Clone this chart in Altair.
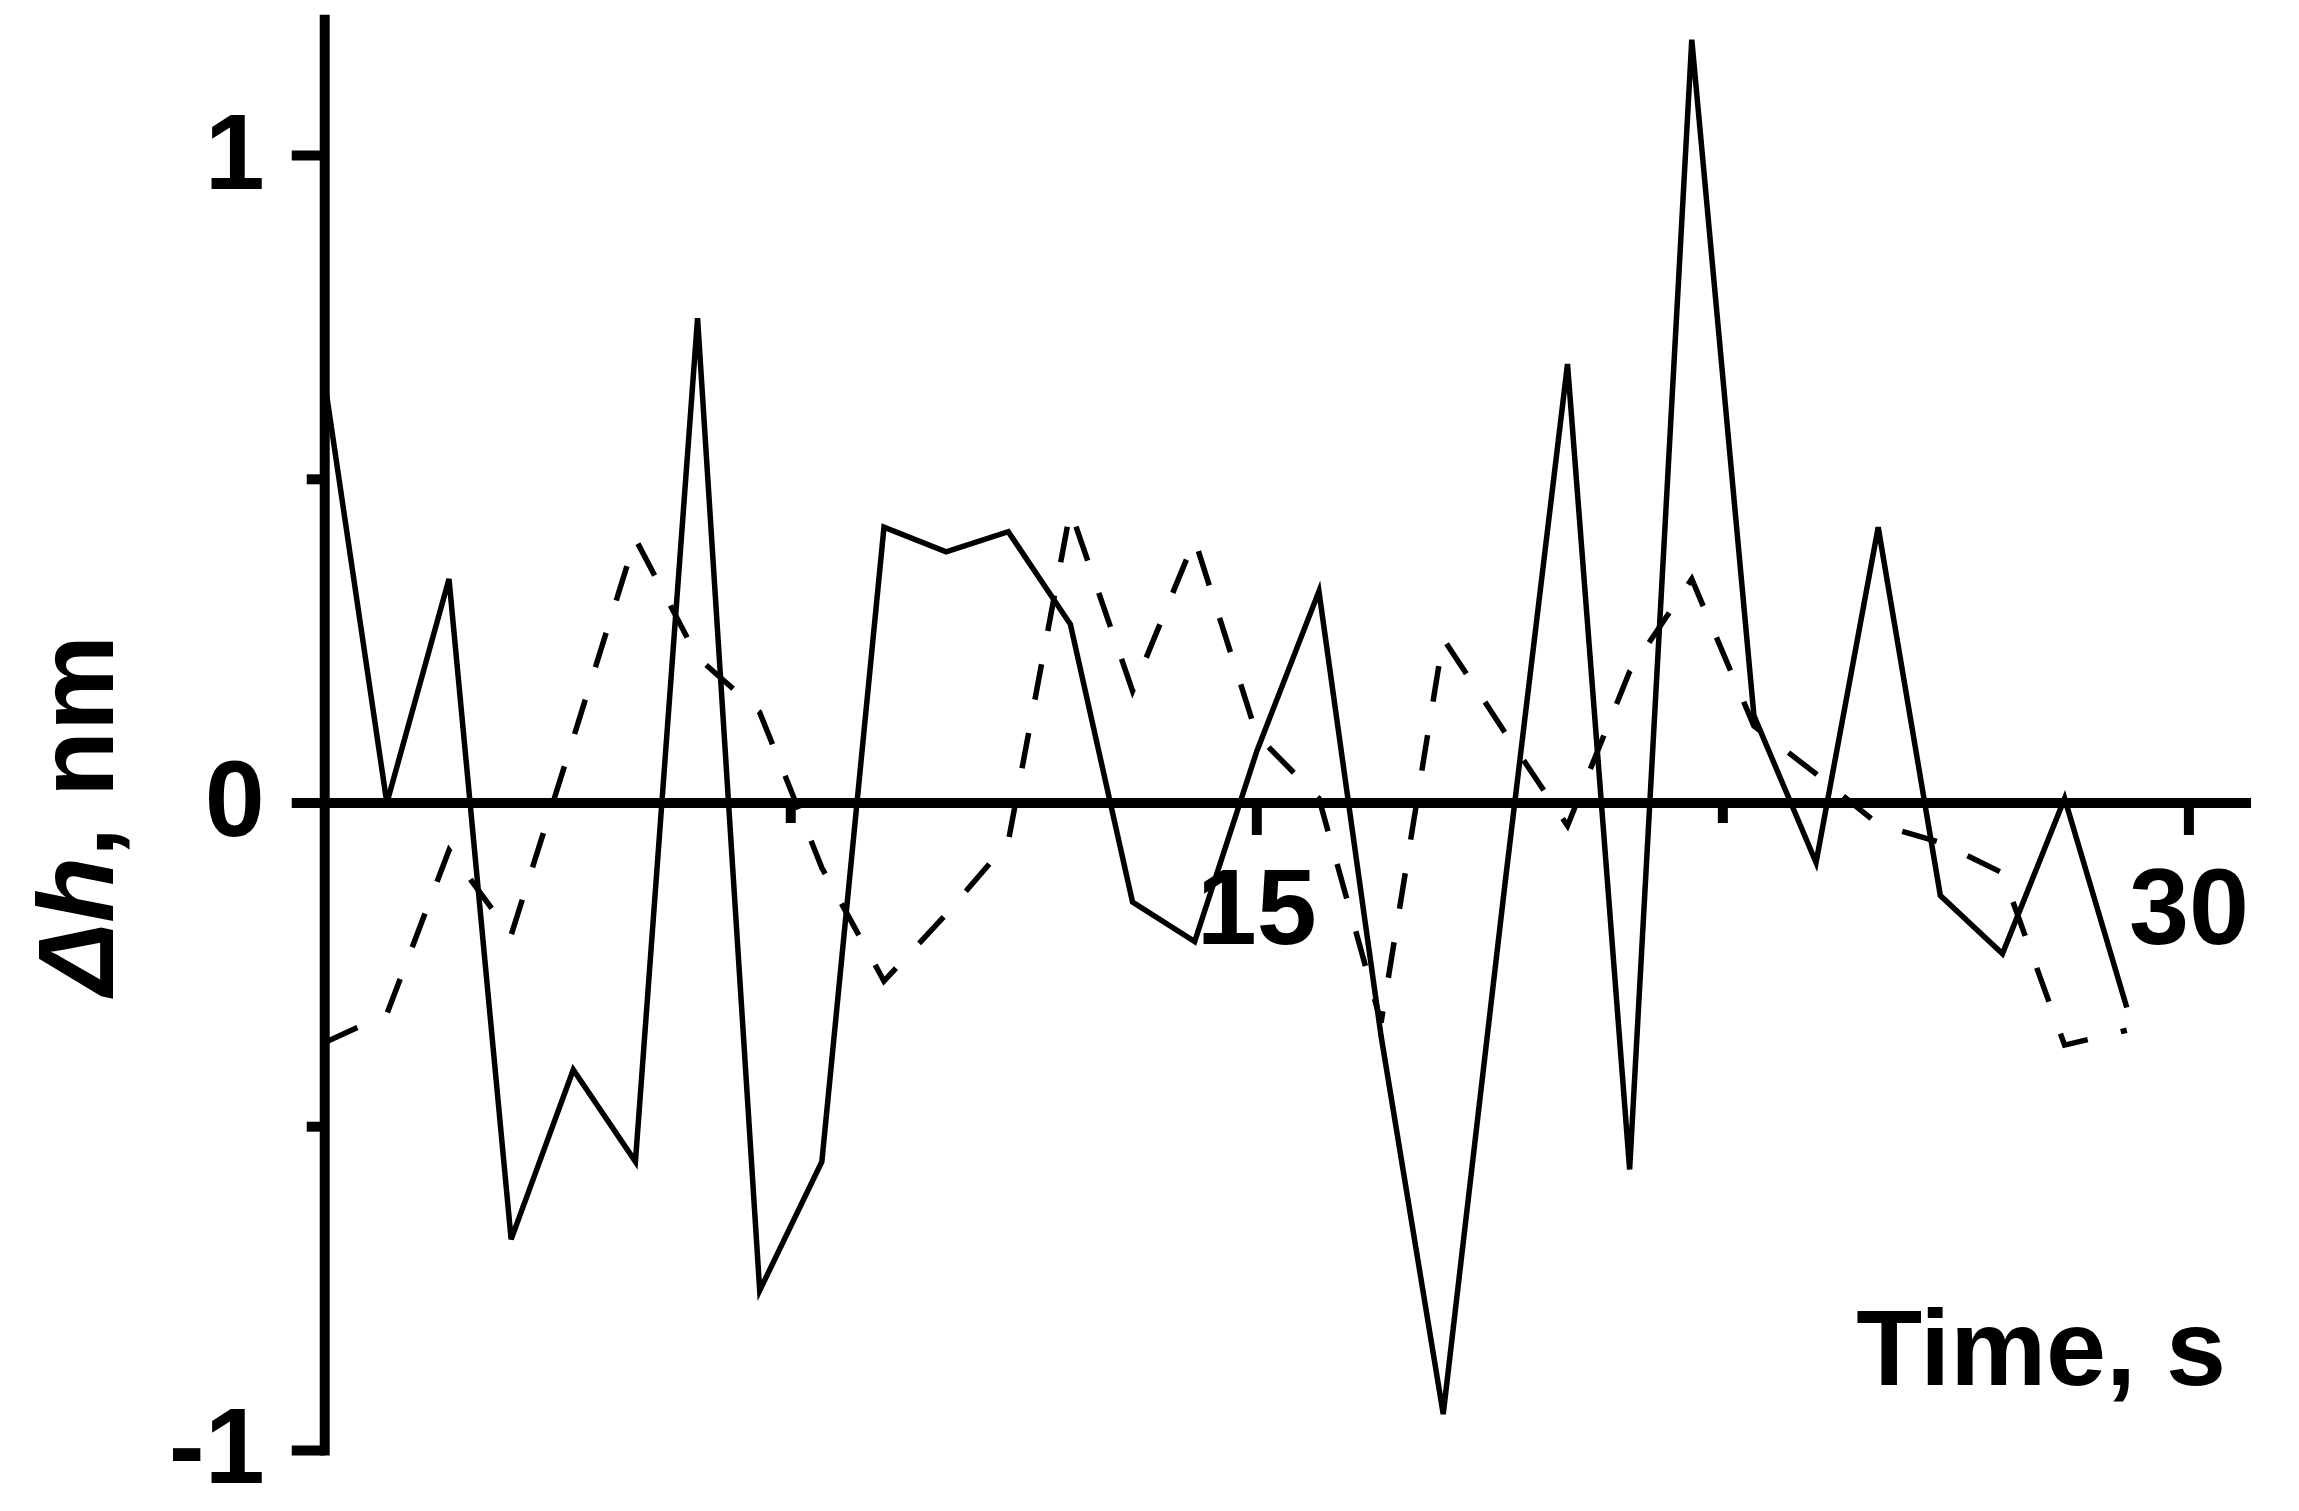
import altair as alt
import pandas as pd

# ---- data ----
time_s = list(range(30))
dh_solid = [0.65, 0.0, 0.346, -0.674, -0.412, -0.554, 0.749, -0.753, -0.554, 0.426,
            0.388, 0.419, 0.276, -0.153, -0.214, 0.08, 0.327, -0.36, -0.944, -0.12,
            0.678, -0.566, 1.179, 0.135, -0.092, 0.426, -0.143, -0.233, 0.007, -0.316]
dh_dashed = [-0.37, -0.326, -0.073, -0.204, 0.10, 0.408, 0.225, 0.14, -0.10, -0.275,
             -0.172, -0.06, 0.452, 0.173, 0.407, 0.105, 0.007, -0.339, 0.254, 0.108,
             -0.035, 0.203, 0.346, 0.119, 0.045, -0.033, -0.061, -0.108, -0.374, -0.351]

x_major = [15, 30]
x_major_labels = ["15", "30"]
x_minor = [7.5, 22.5]
y_major = [-1, 0, 1]
y_major_labels = ["-1", "0", "1"]
y_minor = [-0.5, 0.5]
x_domain = [0, 31]
y_domain = [-1, 1.21]

x_title = "Time, s"
y_title_a = "\u0394h"
y_title_b = ", nm"

# ---- layout ----
W, H = 1928, 1432
FONT = "Liberation Sans"
FS = 108
AXW = 10
LW = 5.5

xs = alt.Scale(domain=x_domain, nice=False, zero=False)
ys = alt.Scale(domain=y_domain, nice=False, zero=False)

df = pd.DataFrame({"t": time_s, "solid": dh_solid, "dashed": dh_dashed})

dashed = alt.Chart(df).mark_line(color="black", strokeWidth=LW, strokeDash=[36, 34]).encode(
    x=alt.X("t:Q", scale=xs, axis=None),
    y=alt.Y("dashed:Q", scale=ys, axis=None),
)
solid = alt.Chart(df).mark_line(color="black", strokeWidth=LW).encode(
    x=alt.X("t:Q", scale=xs, axis=None),
    y=alt.Y("solid:Q", scale=ys, axis=None),
)

yaxis_df = pd.DataFrame({"x": [x_domain[0]], "y1": [y_domain[0]], "y2": [y_domain[1]]})
yaxis = alt.Chart(yaxis_df).mark_rule(color="black", strokeWidth=AXW, strokeCap="square").encode(
    x=alt.X("x:Q", scale=xs, axis=None),
    y=alt.Y("y1:Q", scale=ys, axis=None),
    y2="y2:Q",
)
xaxis_df = pd.DataFrame({"x1": [x_domain[0]], "x2": [x_domain[1]], "y": [0]})
xaxis = alt.Chart(xaxis_df).mark_rule(color="black", strokeWidth=AXW).encode(
    x=alt.X("x1:Q", scale=xs, axis=None),
    x2="x2:Q",
    y=alt.Y("y:Q", scale=ys, axis=None),
)

ymaj_df = pd.DataFrame({"v": y_major, "lab": y_major_labels})
ymaj = alt.Chart(ymaj_df).mark_rule(color="black", strokeWidth=AXW).encode(
    y=alt.Y("v:Q", scale=ys, axis=None), x=alt.value(-33), x2=alt.value(0)
)
ymin_df = pd.DataFrame({"v": y_minor})
ymin = alt.Chart(ymin_df).mark_rule(color="black", strokeWidth=AXW).encode(
    y=alt.Y("v:Q", scale=ys, axis=None), x=alt.value(-18), x2=alt.value(0)
)
ylab = alt.Chart(ymaj_df).mark_text(
    font=FONT, fontSize=FS, fontWeight="bold", align="right", baseline="alphabetic", dy=33, color="black"
).encode(y=alt.Y("v:Q", scale=ys, axis=None), x=alt.value(-60), text="lab:N")

xmaj_df = pd.DataFrame({"v": x_major, "z": [0] * len(x_major), "lab": x_major_labels})
xmaj = alt.Chart(xmaj_df).mark_rule(color="black", strokeWidth=AXW, y2Offset=32).encode(
    x=alt.X("v:Q", scale=xs, axis=None), y=alt.Y("z:Q", scale=ys, axis=None), y2="z:Q"
)
xmin_df = pd.DataFrame({"v": x_minor, "z": [0] * len(x_minor)})
xmin = alt.Chart(xmin_df).mark_rule(color="black", strokeWidth=AXW, y2Offset=20).encode(
    x=alt.X("v:Q", scale=xs, axis=None), y=alt.Y("z:Q", scale=ys, axis=None), y2="z:Q"
)
xlab = alt.Chart(xmaj_df).mark_text(
    font=FONT, fontSize=FS, fontWeight="bold", align="center", baseline="alphabetic", dy=141, color="black"
).encode(x=alt.X("v:Q", scale=xs, axis=None), y=alt.Y("z:Q", scale=ys, axis=None), text="lab:N")

one = pd.DataFrame({"k": [0]})
xtitle = alt.Chart(one).mark_text(
    font=FONT, fontSize=FS, fontWeight="bold", align="right", baseline="alphabetic", color="black", text=x_title
).encode(x=alt.value(1903), y=alt.value(1367))
ytitle_a = alt.Chart(one).mark_text(
    font=FONT, fontSize=FS, fontWeight="bold", fontStyle="italic", align="right", baseline="alphabetic",
    angle=270, color="black", text=y_title_a
).encode(x=alt.value(-212), y=alt.value(838))
ytitle_b = alt.Chart(one).mark_text(
    font=FONT, fontSize=FS, fontWeight="bold", align="left", baseline="alphabetic",
    angle=270, color="black", text=y_title_b
).encode(x=alt.value(-212), y=alt.value(838))

chart = alt.layer(
    dashed, solid, yaxis, xaxis, ymaj, ymin, ylab, xmaj, xmin, xlab, xtitle, ytitle_a, ytitle_b
).properties(
    width=W, height=H,
    autosize=alt.AutoSizeParams(type="none"),
    padding={"left": 317, "top": 11, "right": 40, "bottom": 60},
    background="white",
).configure_view(stroke=None)

chart.save("out.html", embed_options={"renderer": "svg", "actions": False})
